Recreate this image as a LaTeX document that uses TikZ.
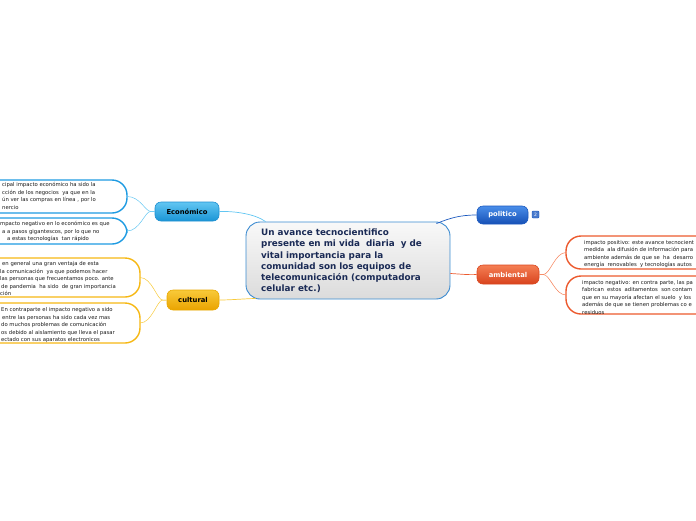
\documentclass[tikz,border=0pt]{standalone}
\usepackage{fontspec}
\setmainfont{DejaVu Sans}
\definecolor{navy}{HTML}{1A2A55}
\definecolor{cenb}{HTML}{3A8AD0}
\definecolor{econb}{HTML}{1E8FD0}
\definecolor{econt}{HTML}{62C6F2}
\definecolor{econbt}{HTML}{1A95D6}
\definecolor{leafblue}{HTML}{1E9BE2}
\definecolor{culb}{HTML}{E9A800}
\definecolor{cult}{HTML}{F8CA3A}
\definecolor{culbt}{HTML}{EAA300}
\definecolor{leaforange}{HTML}{F6B814}
\definecolor{polb}{HTML}{1A58BE}
\definecolor{polt}{HTML}{4A8EEA}
\definecolor{polbt}{HTML}{1650B5}
\definecolor{ambb}{HTML}{D9461F}
\definecolor{ambt}{HTML}{F57F55}
\definecolor{ambbt}{HTML}{D8431D}
\definecolor{leafred}{HTML}{EC5A2E}
\definecolor{leaftext}{HTML}{1A1A1A}
\tikzset{
  mainbox/.style={draw=cenb, line width=0.9pt, rounded corners=14pt, top color=white!95!gray, bottom color=gray!28, minimum width=204pt, minimum height=77pt},
  topic/.style={rounded corners=6pt, draw, line width=0.6pt, font=\bfseries\fontsize{6.8}{8}\selectfont, inner sep=0pt},
  leaf/.style={draw, fill=white, line width=1.4pt, rounded corners=15pt},
  leaftxt/.style={font=\fontsize{5.3}{7.5}\selectfont, text=leaftext, align=left, inner sep=0pt},
  conn/.style={line width=0.7pt}
}
\begin{document}
\begin{tikzpicture}[x=1pt,y=-1pt]
\useasboundingbox (0,0) rectangle (696,520);
% central
\node[mainbox] (c) at (348,260.5) {};
\node[anchor=west, align=left, inner sep=0pt, text=navy, font=\bfseries\fontsize{8.8}{11.2}\selectfont] (ctext) at (261,261) {Un avance tecnocientifico\\presente en mi vida\ \ diaria\ \ y de\\vital importancia para la\\comunidad son los equipos de\\telecomunicación (computadora\\celular etc.)};
% topics
\node[topic, draw=econb, top color=econt, bottom color=econbt, minimum width=64pt, minimum height=19pt, text=black] (eco) at (187,211.5) {Económico};
\node[topic, draw=culb, top color=cult, bottom color=culbt, minimum width=52pt, minimum height=20pt, text=black] (cul) at (193,300) {cultural};
\node[topic, draw=polb, top color=polt, bottom color=polbt, minimum width=51pt, minimum height=18pt, text=white] (pol) at (502.5,215) {politico};
\node[draw=polb, fill=polb!80!white, rounded corners=1pt, minimum width=7pt, minimum height=7pt, inner sep=0pt, text=white, font=\fontsize{4.5}{5}\selectfont] (badge) at (535.5,214.5) {2};
\node[topic, draw=ambb, top color=ambt, bottom color=ambbt, minimum width=62pt, minimum height=19pt, text=white] (amb) at (508,274.5) {ambiental};
% leaves
\draw[leaf, draw=leafblue] (-20,180) rectangle (127,213);
\coordinate (e1) at (127,196.5);
\draw[leaf, draw=leafblue] (-20,218) rectangle (127,244);
\coordinate (e2) at (127,231);
\draw[leaf, draw=leaforange] (-20,258) rectangle (140,297);
\coordinate (c1) at (140,277.5);
\draw[leaf, draw=leaforange] (-20,303) rectangle (140,343);
\coordinate (c2) at (140,323);
\draw[leaf, draw=leafred] (566,236) rectangle (720,269);
\coordinate (a1) at (566,252.5);
\draw[leaf, draw=leafred] (566,276) rectangle (720,314);
\coordinate (a2) at (566,295);
% leaf texts
\node[leaftxt, anchor=north west] (t1) at (2,182.5) {cipal impacto económico ha sido la\\cción de los negocios\ \ ya que en la\\ún ver las compras en línea , por lo\\nercio};
\node[leaftxt, anchor=north west] (t2) at (0,221.5) {mpacto negativo en lo económico es que\\\hspace*{2pt}a a pasos gigantescos, por lo que no\\\hspace*{7pt}a estas tecnologías\ \ tan rápido};
\node[leaftxt, anchor=north west] (t3) at (0,261.5) {\hspace*{2pt}en general una gran ventaja de esta\\la comunicación\ \ ya que podemos hacer\\las personas que frecuentamos poco. ante\\\hspace*{1pt}de pandemia\ \ ha sido\ \ de gran importancia\\ción};
\node[leaftxt, anchor=north west] (t4) at (1,307.5) {En contraparte el impacto negativo a sido\\\hspace*{1pt}entre las personas ha sido cada vez mas\\do muchos problemas de comunicación\\os debido al aislamiento que lleva el pasar\\ectado con sus aparatos electronicos};
\node[leaftxt, anchor=north west] (t5) at (584,240) {impacto positivo: este avance tecnocient\\medida\ \ ala difusión de información para\\ambiente además de que se\ \ ha\ \ desarro\\energía\ \ renovables\ \ y tecnologías autos};
\node[leaftxt, anchor=north west] (t6) at (582,280) {impacto negativo: en contra parte, las pa\\fabrican\ \ estos\ \ aditamentos\ \ son contam\\que en su mayoría afectan el suelo\ \ y los\\además de que se tienen problemas co e\\residuos};
% connectors centre-topics
\draw[conn, draw=econt] (c.north west) ++(20,0) .. controls (255,214) and (235,211) .. (eco.east);
\draw[conn, draw=cult] (c.south west) ++(10,-1) .. controls (240,299) and (230,300) .. (cul.east);
\draw[conn, draw=polb] (c.north east) ++(-14,2) .. controls (450,218) and (460,215) .. (pol.west);
\draw[conn, draw=leafred] (c.east) ++(0,13) .. controls (460,274) and (468,275) .. (amb.west);
% topics to leaves
\draw[conn, draw=econt, line width=0.5pt] (eco.west) -- ++(-4,0) .. controls (145,211) and (140,196.5) .. (e1);
\draw[conn, draw=econt, line width=0.5pt] (eco.west) -- ++(-4,0) .. controls (145,211) and (140,231) .. (e2);
\draw[conn, draw=cult, line width=0.5pt] (cul.west) -- ++(-4,0) .. controls (157,300) and (152,277.5) .. (c1);
\draw[conn, draw=cult, line width=0.5pt] (cul.west) -- ++(-4,0) .. controls (157,300) and (152,323) .. (c2);
\draw[conn, draw=ambt, line width=0.5pt] (amb.east) -- ++(4,0) .. controls (550,274.5) and (555,252.5) .. (a1);
\draw[conn, draw=ambt, line width=0.5pt] (amb.east) -- ++(4,0) .. controls (550,274.5) and (555,295) .. (a2);
\end{tikzpicture}
\end{document}
